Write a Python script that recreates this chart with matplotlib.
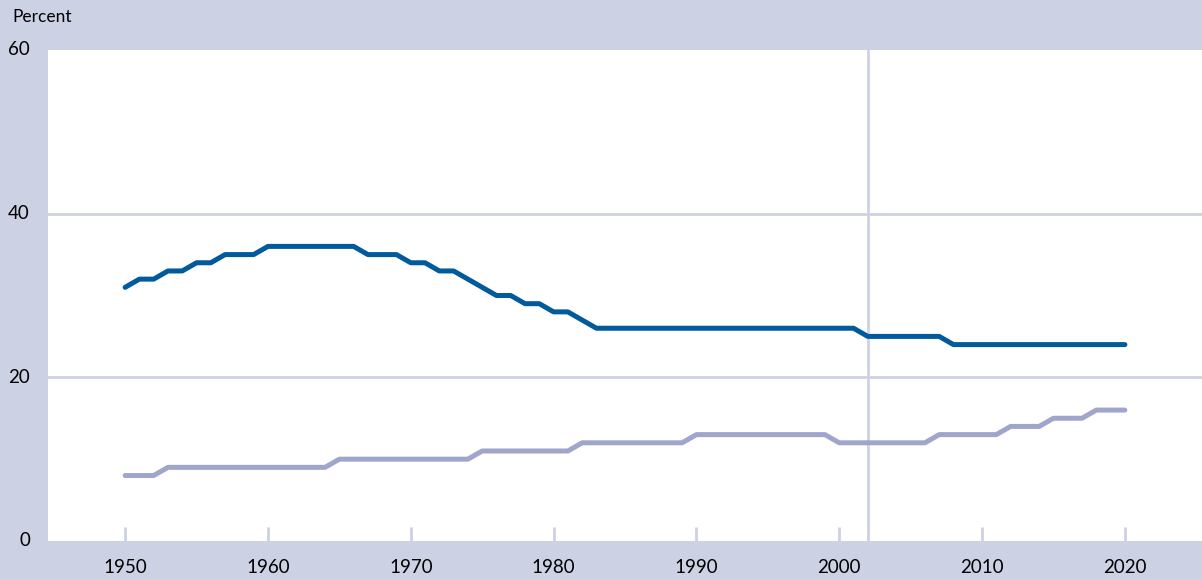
import matplotlib
matplotlib.use("Agg")
import matplotlib.pyplot as plt

years = list(range(1950, 2021))

dark_series = [31, 32, 32, 33, 33, 34, 34, 35, 35, 35,
               36, 36, 36, 36, 36, 36, 36, 35, 35, 35,
               34, 34, 33, 33, 32, 31, 30, 30, 29, 29,
               28, 28, 27, 26, 26, 26, 26, 26, 26, 26,
               26, 26, 26, 26, 26, 26, 26, 26, 26, 26,
               26, 26, 25, 25, 25, 25, 25, 25, 24, 24,
               24, 24, 24, 24, 24, 24, 24, 24, 24, 24,
               24]

light_series = [8, 8, 8, 9, 9, 9, 9, 9, 9, 9,
                9, 9, 9, 9, 9, 10, 10, 10, 10, 10,
                10, 10, 10, 10, 10, 11, 11, 11, 11, 11,
                11, 11, 12, 12, 12, 12, 12, 12, 12, 12,
                13, 13, 13, 13, 13, 13, 13, 13, 13, 13,
                12, 12, 12, 12, 12, 12, 12, 13, 13, 13,
                13, 13, 14, 14, 14, 15, 15, 15, 16, 16,
                16]

x_ticks = [1950, 1960, 1970, 1980, 1990, 2000, 2010, 2020]
y_ticks = [0, 20, 40, 60]
marker_year = 2002

bg = "#cdd1e4"
dark = "#005a9c"
light = "#a0a6cb"

plt.rcParams['font.family'] = ['Lato', 'DejaVu Sans']

fig = plt.figure(figsize=(12.02, 5.79), dpi=100, facecolor=bg)
ax = fig.add_axes([48 / 1202, 38 / 579, 1154 / 1202, 491 / 579])
ax.set_facecolor("white")

ax.set_xlim(1944.6, 2025.4)
ax.set_ylim(0, 60)

for y in [20, 40]:
    ax.axhline(y, color=bg, lw=2, zorder=1)
ax.axvline(marker_year, color=bg, lw=2, zorder=1)

ax.plot(years, light_series, color=light, lw=3.6, solid_capstyle="round",
        solid_joinstyle="round", zorder=3)
ax.plot(years, dark_series, color=dark, lw=3.6, solid_capstyle="round",
        solid_joinstyle="round", zorder=3)

for s in ax.spines.values():
    s.set_visible(False)

ax.set_xticks(x_ticks)
ax.set_xticklabels([str(t) for t in x_ticks])
ax.tick_params(axis="x", direction="in", length=10, width=2, color=bg,
               pad=13, labelsize=13.5)
ax.set_yticks(y_ticks)
ax.set_yticklabels([str(t) for t in y_ticks], va="top")
ax.tick_params(axis="y", length=0, pad=13, labelsize=13.5)
for lbl in ax.get_yticklabels():
    lbl.set_verticalalignment("center")

fig.text(12 / 1202, 1 - 17 / 579, "Percent", ha="left", va="center", fontsize=12.5)

fig.savefig("out.png", dpi=100, facecolor=bg)
